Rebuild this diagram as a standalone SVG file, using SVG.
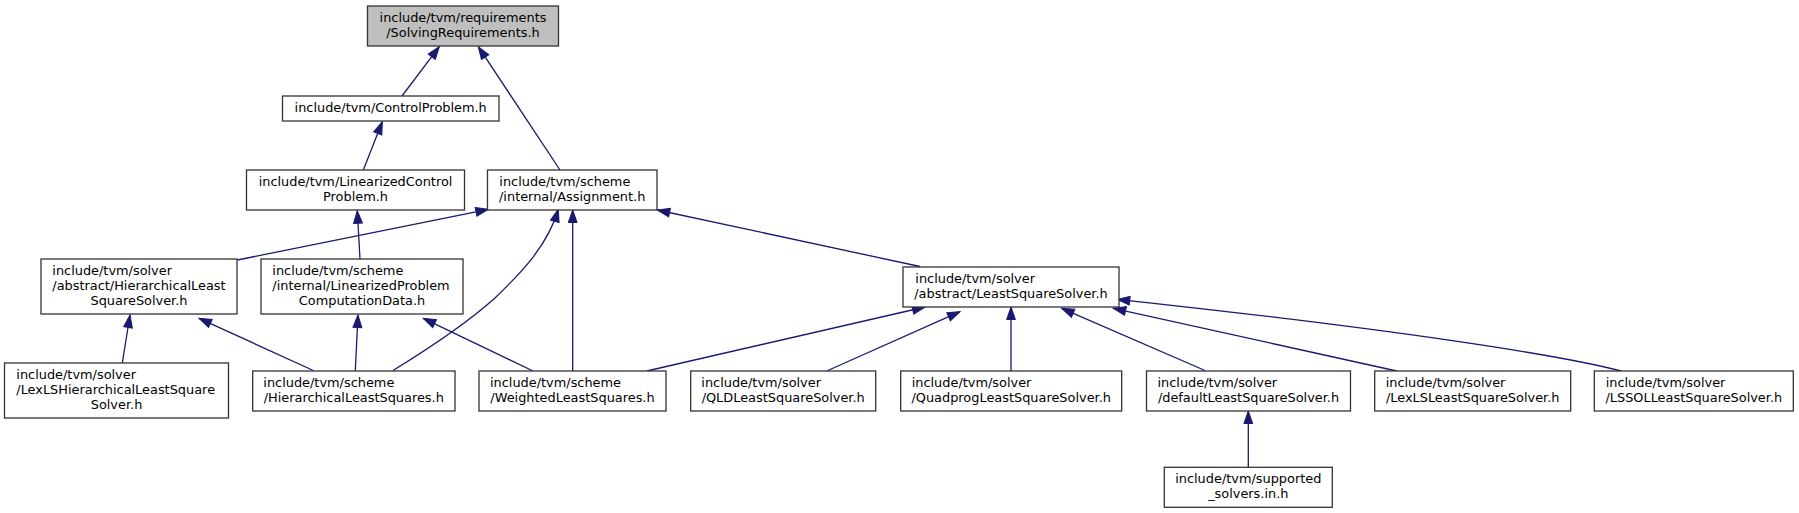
<svg xmlns="http://www.w3.org/2000/svg" width="1799" height="513" viewBox="0 0 1799 513">
<style>
  .box { fill: #ffffff; stroke: #333333; stroke-width: 1.3; }
  .root { fill: #bfbfbf; }
  text { font-family: "DejaVu Sans", "Noto Sans", sans-serif; font-size: 12.9px; fill: #000000; }
  .m { text-anchor: middle; }
  .s { text-anchor: start; }
  .edge { fill: none; stroke: #191970; stroke-width: 1.3; marker-end: url(#arr); }
</style>
<defs>
  <marker id="arr" markerUnits="userSpaceOnUse" markerWidth="16" markerHeight="12" refX="13" refY="5" orient="auto" overflow="visible">
    <path d="M0.5,0.6 L13,5 L0.5,9.4 Z" fill="#191970" stroke="#191970" stroke-width="1"/>
  </marker>
</defs>
<rect width="1799" height="513" fill="#ffffff"/>

<g id="edges">
  <path class="edge" d="M402,96 L439.3,46.7"/>
  <path class="edge" d="M560,170 L478.3,46.7"/>
  <path class="edge" d="M363.3,170 L382.3,121.7"/>
  <path class="edge" d="M360,259 L357.3,210.7"/>
  <path class="edge" d="M237.3,260 L488.3,209.3"/>
  <path class="edge" d="M122.3,363 L130,315"/>
  <path class="edge" d="M313.3,370.5 L199,318.3"/>
  <path class="edge" d="M355.3,370.7 L358,315"/>
  <path class="edge" d="M393,370.5 C428,349 466,324 495,298 C522,272 548,245 558.3,209.3"/>
  <path class="edge" d="M572.7,371 L572.7,210"/>
  <path class="edge" d="M533,371 L423.3,318.3"/>
  <path class="edge" d="M920,266.5 L657.3,210"/>
  <path class="edge" d="M646.7,371 L925,307"/>
  <path class="edge" d="M826.7,371 L960,311.7"/>
  <path class="edge" d="M1011,371 L1011,307"/>
  <path class="edge" d="M1205,370.5 L1061.7,308.3"/>
  <path class="edge" d="M1396.7,371 L1113.3,308.3"/>
  <path class="edge" d="M1621,371 C1560,355 1400,330 1117.3,299.3"/>
  <path class="edge" d="M1248.3,467.3 L1248.3,411"/>
</g>

<g id="n1">
  <rect class="box root" x="367.5" y="6" width="191" height="40"/>
  <text class="m" x="463" y="22">include/tvm/requirements</text>
  <text class="m" x="463" y="37">/SolvingRequirements.h</text>
</g>
<g id="n2">
  <rect class="box" x="282.5" y="96" width="216.5" height="25"/>
  <text class="m" x="390.7" y="112.3">include/tvm/ControlProblem.h</text>
</g>
<g id="n3">
  <rect class="box" x="246.5" y="170" width="218" height="40"/>
  <text class="m" x="355.5" y="186">include/tvm/LinearizedControl</text>
  <text class="m" x="355.5" y="201">Problem.h</text>
</g>
<g id="n4">
  <rect class="box" x="487.5" y="170" width="169.5" height="40"/>
  <text class="s" x="499.3" y="186">include/tvm/scheme</text>
  <text class="m" x="572.2" y="201">/internal/Assignment.h</text>
</g>
<g id="n5">
  <rect class="box" x="41" y="259" width="196" height="55"/>
  <text class="s" x="52.3" y="275">include/tvm/solver</text>
  <text class="s" x="52.3" y="290">/abstract/HierarchicalLeast</text>
  <text class="m" x="139" y="305">SquareSolver.h</text>
</g>
<g id="n6">
  <rect class="box" x="261" y="259" width="202" height="55"/>
  <text class="s" x="272.3" y="275">include/tvm/scheme</text>
  <text class="s" x="272.3" y="290">/internal/LinearizedProblem</text>
  <text class="m" x="362" y="305">ComputationData.h</text>
</g>
<g id="n7">
  <rect class="box" x="903" y="267" width="216" height="40"/>
  <text class="s" x="915.3" y="283">include/tvm/solver</text>
  <text class="m" x="1011" y="298">/abstract/LeastSquareSolver.h</text>
</g>
<g id="n8">
  <rect class="box" x="4.5" y="363" width="224" height="55"/>
  <text class="s" x="16.3" y="379">include/tvm/solver</text>
  <text class="s" x="16.3" y="394">/LexLSHierarchicalLeastSquare</text>
  <text class="m" x="116.5" y="409">Solver.h</text>
</g>
<g id="n9">
  <rect class="box" x="252.7" y="371" width="202.3" height="40"/>
  <text class="s" x="263.3" y="387">include/tvm/scheme</text>
  <text class="m" x="353.8" y="402">/HierarchicalLeastSquares.h</text>
</g>
<g id="n10">
  <rect class="box" x="479" y="371" width="187" height="40"/>
  <text class="s" x="490" y="387">include/tvm/scheme</text>
  <text class="m" x="572.5" y="402">/WeightedLeastSquares.h</text>
</g>
<g id="n11">
  <rect class="box" x="690.7" y="371" width="185" height="40"/>
  <text class="s" x="701.3" y="387">include/tvm/solver</text>
  <text class="m" x="783.2" y="402">/QLDLeastSquareSolver.h</text>
</g>
<g id="n12">
  <rect class="box" x="900.7" y="371" width="221" height="40"/>
  <text class="s" x="911.7" y="387">include/tvm/solver</text>
  <text class="m" x="1011.2" y="402">/QuadprogLeastSquareSolver.h</text>
</g>
<g id="n13">
  <rect class="box" x="1146.5" y="371" width="204" height="40"/>
  <text class="s" x="1157.5" y="387">include/tvm/solver</text>
  <text class="m" x="1248.5" y="402">/defaultLeastSquareSolver.h</text>
</g>
<g id="n14">
  <rect class="box" x="1374.7" y="371" width="196" height="40"/>
  <text class="s" x="1385.7" y="387">include/tvm/solver</text>
  <text class="m" x="1472.7" y="402">/LexLSLeastSquareSolver.h</text>
</g>
<g id="n15">
  <rect class="box" x="1594.3" y="371" width="199" height="40"/>
  <text class="s" x="1605.7" y="387">include/tvm/solver</text>
  <text class="m" x="1693.8" y="402">/LSSOLLeastSquareSolver.h</text>
</g>
<g id="n16">
  <rect class="box" x="1164.3" y="467.3" width="168" height="40"/>
  <text class="m" x="1248.3" y="483.3">include/tvm/supported</text>
  <text class="m" x="1248.3" y="498.3">_solvers.in.h</text>
</g>
</svg>
